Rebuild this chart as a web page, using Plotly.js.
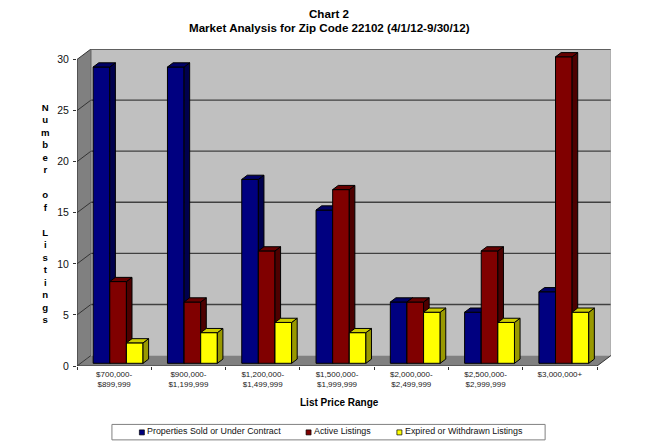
<!DOCTYPE html>
<html>
<head>
<meta charset="utf-8">
<script src="https://cdn.plot.ly/plotly-3.0.1.min.js"></script>
<style>html,body{margin:0;padding:0;background:#fff}#chart{width:655px;height:446px}</style>
</head>
<body>
<div id="chart"></div>
<script>
const categories = ["$700,000-<br>$899,999","$900,000-<br>$1,199,999","$1,200,000-<br>$1,499,999","$1,500,000-<br>$1,999,999","$2,000,000-<br>$2,499,999","$2,500,000-<br>$2,999,999","$3,000,000+"];
const soldValues = [29,29,18,15,6,5,7];
const activeValues = [8,6,11,17,6,11,30];
const expiredValues = [2,3,4,3,5,4,5];
const seriesNames = ["Properties Sold or Under Contract","Active Listings","Expired or Withdrawn Listings"];
const yTicks = [0,5,10,15,20,25,30];
const FONT = '"Liberation Sans", Arial, sans-serif';
const faceColors = [
  {front:'#000080', top:'#000066', side:'#00004d'},
  {front:'#800000', top:'#660000', side:'#4d0000'},
  {front:'#ffff00', top:'#cccc00', side:'#999900'}
];
const seriesValues = [soldValues, activeValues, expiredValues];

// geometry in axis units
const plotL = 76.5, plotR = 611.5, plotT = 48.5, plotB = 366;
const ux = 521/7, uy = 10.23;
const wallDx = 14/ux, wallDy = 10.5/uy;
const barW = 16.65/ux, barStart = 16.2/ux, baseLift = 2.7/uy;
const depthX = 5.6/ux, depthY = 4.2/uy;
const xIdx = categories.map((_,i)=>i);
const xMax = categories.length, yMax = 30;
const paperX = p => (p-plotL)/(plotR-plotL);
const paperY = p => (plotB-p)/(plotB-plotT);

const traces = [];
seriesValues.forEach((vals,s)=>{
  const suffix = s===0 ? '' : String(s+1);
  const xa = 'x'+suffix, ya = 'y'+suffix;
  const off = barStart + s*barW;
  traces.push({type:'bar', name:seriesNames[s], x:xIdx, y:vals, base:baseLift, width:barW, offset:off,
    xaxis:xa, yaxis:ya, showlegend:false,
    marker:{color:faceColors[s].front, line:{color:'#000000', width:1}}, hovertemplate:'%{y}<extra>'+seriesNames[s]+'</extra>'});
  const sideX=[], sideY=[], topX=[], topY=[];
  vals.forEach((v,i)=>{
    const l=i+off, r=l+barW, b=baseLift, t=v+baseLift;
    sideX.push(r,r+depthX,r+depthX,r,r,null);
    sideY.push(b,b+depthY,t+depthY,t,b,null);
    topX.push(l,r,r+depthX,l+depthX,l,null);
    topY.push(t,t,t+depthY,t+depthY,t,null);
  });
  [[sideX,sideY,faceColors[s].side],[topX,topY,faceColors[s].top]].forEach(([x,y,c])=>{
    traces.push({type:'scatter', mode:'lines', x:x, y:y, xaxis:xa, yaxis:ya, fill:'toself', fillcolor:c,
      line:{color:'#000000', width:1}, showlegend:false, hoverinfo:'skip', connectgaps:false});
  });
});

const shapes = [];
const poly = (pts,fill,lineColor,w) => ({type:'path', layer:'below', xref:'x', yref:'y',
  path:'M'+pts.map(p=>p[0]+','+p[1]).join('L')+'Z', fillcolor:fill, line:{color:lineColor||fill, width:w===undefined?0:w}});
const seg = (x0,y0,x1,y1,c,w,layer) => ({type:'line', layer:layer||'below', xref:'x', yref:'y', x0,y0,x1,y1, line:{color:c,width:w}});
shapes.push(poly([[wallDx,wallDy],[xMax+wallDx,wallDy],[xMax+wallDx,yMax+wallDy],[wallDx,yMax+wallDy]],'#c0c0c0'));
shapes.push(poly([[0,0],[wallDx,wallDy],[wallDx,yMax+wallDy],[0,yMax]],'#808080'));
shapes.push(poly([[0,0],[xMax,0],[xMax+wallDx,wallDy],[wallDx,wallDy]],'#808080'));
yTicks.forEach(v=>{
  if(v>0) shapes.push(seg(wallDx,v+wallDy,xMax+wallDx,v+wallDy,'#404040',1.4));
  shapes.push(seg(0,v,wallDx,v+wallDy,'#333333',1));
});
shapes.push(seg(xMax+wallDx,wallDy,xMax+wallDx,yMax+wallDy,'#a0a0a0',1));
shapes.push(seg(wallDx,wallDy,wallDx,yMax+wallDy,'#606060',1));
shapes.push(seg(xMax,0,xMax+wallDx,wallDy,'#333333',1));
shapes.push(seg(0,0,0,yMax,'#333333',1.2));
shapes.push(seg(0,0,xMax,0,'#333333',1.2));

// legend box
shapes.push({type:'rect', xref:'paper', yref:'paper', x0:paperX(111.5), x1:paperX(545.5), y0:paperY(440), y1:paperY(424.5),
  fillcolor:'#ffffff', line:{color:'#808080', width:1}});
const legendSwatchX = [139,306,397], legendTextX = [146,313,404];
const annotations = [];
seriesNames.forEach((n,s)=>{
  shapes.push({type:'rect', xref:'paper', yref:'paper', x0:paperX(legendSwatchX[s]), x1:paperX(legendSwatchX[s]+5),
    y0:paperY(435), y1:paperY(430), fillcolor:faceColors[s].front, line:{color:'#000000', width:0.7}});
  annotations.push({xref:'paper', yref:'paper', x:paperX(legendTextX[s]-1), y:paperY(431), xanchor:'left', yanchor:'middle',
    text:n, showarrow:false, font:{family:FONT, size:8.9, color:'#111111'}});
});
annotations.push({xref:'paper', yref:'paper', x:paperX(45), y:paperY(213.5), xanchor:'center', yanchor:'middle', align:'center',
  text:"N<br>u<br>m<br>b<br>e<br>r<br> <br>o<br>f<br> <br>L<br>i<br>s<br>t<br>i<br>n<br>g<br>s",
  showarrow:false, font:{family:FONT, size:9.6, color:'#000000', weight:700}});
annotations.push({xref:'paper', yref:'paper', x:paperX(339), y:paperY(403), xanchor:'center', yanchor:'middle',
  text:'List Price Range', showarrow:false, font:{family:FONT, size:10, color:'#000000', weight:700}});
annotations.push({xref:'paper', yref:'paper', x:paperX(329), y:paperY(13), xanchor:'center', yanchor:'middle',
  text:'Chart 2', showarrow:false, font:{family:FONT, size:11.6, color:'#000000', weight:700}});
annotations.push({xref:'paper', yref:'paper', x:paperX(329), y:paperY(27), xanchor:'center', yanchor:'middle',
  text:'Market Analysis for Zip Code 22102 (4/1/12-9/30/12)', showarrow:false, font:{family:FONT, size:11.6, color:'#000000', weight:700}});

const xRange = [0, xMax+wallDx], yRange = [0, yMax+wallDy];
const hiddenX = {range:xRange, overlaying:'x', visible:false, fixedrange:true};
const hiddenY = {range:yRange, overlaying:'y', visible:false, fixedrange:true};
const layout = {
  width:655, height:446, autosize:false, showlegend:false, barmode:'overlay',
  paper_bgcolor:'#ffffff', plot_bgcolor:'#ffffff',
  margin:{l:plotL, r:655-plotR, t:plotT, b:446-plotB, pad:0},
  xaxis:{range:xRange, type:'linear', tickmode:'array', tickvals:xIdx.map(i=>i+0.5), ticktext:categories, ticks:'',
    showgrid:false, zeroline:false, showline:false, fixedrange:true,
    tickfont:{family:FONT, size:8, color:'#222222'}, ticklabelstandoff:2,
    minor:{tickmode:'array', tickvals:xIdx.concat([xMax]), ticks:'outside', ticklen:3, tickwidth:1, tickcolor:'#333333', showgrid:false}},
  yaxis:{range:yRange, type:'linear', tickmode:'array', tickvals:yTicks, ticktext:yTicks.map(String), ticks:'outside', ticklen:3, tickwidth:1,
    tickcolor:'#333333', showgrid:false, zeroline:false, showline:false, fixedrange:true, ticklabelstandoff:2,
    tickfont:{family:FONT, size:10.5, color:'#111111'}},
  xaxis2:hiddenX, yaxis2:hiddenY, xaxis3:hiddenX, yaxis3:hiddenY,
  shapes, annotations
};
Plotly.newPlot('chart', traces, layout, {displayModeBar:false, staticPlot:true});
</script>
</body>
</html>
